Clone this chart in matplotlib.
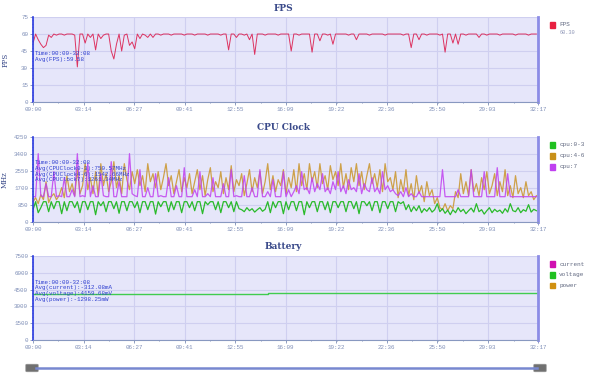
#!/usr/bin/env python3
# FPS / CPU clock / battery dashboard, three stacked panels over one session.

import numpy as np
import matplotlib
matplotlib.use("Agg")
import matplotlib.pyplot as plt
from matplotlib.lines import Line2D
from matplotlib.patches import FancyBboxPatch, Rectangle
from matplotlib.ticker import AutoMinorLocator

SAMPLE_STEP = 10  # seconds between samples

tick_seconds = [0, 194, 387, 581, 775, 969, 1162, 1356, 1550, 1743, 1937]
tick_labels = ["00:00", "03:14", "06:27", "09:41", "12:55", "16:09",
               "19:22", "22:36", "25:50", "29:03", "32:17"]

fps = [
    52, 60, 55, 51, 48, 50, 59, 57, 60, 59, 60, 60, 59, 60, 60, 60, 59, 31, 60, 60,
    52, 60, 57, 60, 46, 60, 56, 59, 60, 60, 45, 38, 51, 60, 45, 59, 60, 50, 53, 47,
    60, 56, 60, 59, 57, 60, 57, 60, 60, 59, 60, 60, 60, 59, 60, 60, 60, 60, 59, 60,
    60, 60, 59, 60, 60, 60, 60, 59, 60, 60, 60, 60, 59, 60, 60, 46, 60, 60, 57, 60,
    60, 59, 60, 55, 60, 42, 60, 60, 60, 59, 60, 60, 60, 60, 59, 60, 60, 60, 60, 45,
    60, 60, 59, 60, 60, 60, 60, 44, 60, 60, 54, 60, 60, 59, 60, 51, 60, 60, 60, 60,
    60, 59, 60, 60, 55, 60, 60, 60, 60, 59, 60, 60, 60, 60, 60, 59, 60, 60, 60, 60,
    60, 60, 59, 60, 60, 48, 60, 60, 55, 60, 60, 59, 60, 60, 60, 60, 59, 60, 44, 60,
    60, 52, 60, 51, 60, 60, 59, 60, 60, 60, 60, 57, 60, 60, 59, 60, 60, 60, 60, 59,
    60, 60, 60, 60, 60, 59, 60, 60, 60, 60, 59, 60, 60, 60,
]

cpu_0_3 = [
    600, 1000, 450, 700, 1000, 1000, 500, 1000, 650, 1000, 1000, 400, 1000, 550, 1000, 1000, 700, 1000, 450, 1000,
    1000, 600, 1000, 1000, 350, 1000, 800, 1000, 500, 1000, 1000, 650, 1000, 420, 1000, 1000, 550, 1000, 1000, 700,
    1000, 450, 1000, 1000, 600, 1000, 1000, 380, 1000, 750, 1000, 1000, 500, 1000, 600, 1000, 1000, 450, 1000, 1000,
    700, 1000, 550, 1000, 1000, 400, 1000, 850, 1000, 1000, 600, 1000, 450, 1000, 1000, 700, 1000, 500, 1000, 650,
    600, 500, 700, 550, 650, 480, 600, 700, 520, 620, 1000, 450, 1000, 700, 1000, 1000, 400, 1000, 600, 1000,
    1000, 550, 1000, 1000, 350, 1000, 700, 1000, 1000, 500, 1000, 1000, 600, 1000, 450, 1000, 1000, 700, 1000, 1000,
    500, 1000, 1000, 650, 1000, 400, 1000, 1000, 800, 1000, 550, 1000, 1000, 450, 1000, 1000, 650, 1000, 1000, 500,
    1000, 900, 1000, 600, 850, 500, 750, 550, 800, 450, 650, 520, 700, 480, 600, 900, 500, 650, 420, 580,
    350, 600, 450, 700, 500, 620, 400, 550, 680, 480, 900, 500, 600, 380, 550, 700, 450, 620, 500, 580,
    420, 650, 480, 900, 550, 500, 700, 450, 600, 520, 850, 480, 620, 550,
]

cpu_4_6 = [
    1000, 1200, 900, 1350, 1100, 2000, 950, 1250, 1400, 1100, 1300, 1700, 1200, 2300, 1500, 1900, 1300, 2600, 1400, 1800,
    2900, 1600, 2200, 1400, 2500, 1300, 2900, 1800, 2400, 1500, 2000, 3000, 1700, 2300, 1400, 2900, 2100, 1600, 2500, 1900,
    2600, 1800, 2300, 1500, 2900, 2000, 2400, 1700, 2500, 1600, 2200, 2900, 1800, 2300, 1400, 2000, 2600, 1500, 2200, 1700,
    2400, 1400, 2000, 2600, 1600, 2300, 1300, 2100, 2700, 1500, 2000, 1700, 2500, 1400, 2200, 1600, 2800, 1500, 2100, 1800,
    2400, 1300, 1900, 2600, 1500, 2200, 1700, 2500, 1400, 2000, 2900, 1600, 2300, 1500, 2100, 1800, 2600, 1400, 2200, 1700,
    2600, 1500, 2900, 1800, 2400, 1600, 2900, 2000, 2500, 1700, 2900, 1900, 2300, 1600, 2800, 2100, 2500, 1800, 2900, 1700,
    2400, 1600, 2700, 2000, 2900, 1800, 2500, 1600, 2300, 2900, 1900, 2400, 1700, 2600, 1500, 2900, 2000, 2200, 1600, 2500,
    1200, 2100, 1500, 2600, 1300, 1900, 1100, 2300, 1400, 1800, 1000, 2000, 1300, 1600, 900, 1200, 700, 600, 900, 550,
    800, 650, 1500, 1200, 2400, 1400, 2000, 1300, 2600, 1500, 1900, 1300, 2200, 1600, 2500, 1400, 1800, 2400, 1300, 2000,
    1500, 2600, 1300, 1800, 1200, 2300, 1400, 1700, 1200, 2000, 1300, 1500, 1100, 1300,
]

cpu_7 = [
    1250, 1250, 3400, 1300, 1250, 1900, 1250, 1250, 2500, 1250, 1300, 1250, 2200, 1250, 1250, 1600, 1250, 3400, 1250, 1300,
    1250, 2900, 1250, 1800, 1250, 1250, 2400, 1300, 1250, 1250, 3000, 1250, 1250, 2000, 1250, 1250, 1250, 3400, 1400, 1300,
    1250, 2600, 1250, 1250, 1700, 1250, 1250, 2400, 1250, 1300, 1250, 1250, 2200, 1250, 1250, 1800, 1250, 1250, 2700, 1250,
    1250, 1250, 1600, 1250, 2500, 1250, 1250, 1400, 1250, 2200, 1250, 1250, 1250, 1900, 1250, 1250, 2600, 1250, 1300, 1250,
    1250, 2300, 1250, 1250, 1700, 1250, 1250, 2600, 1250, 1250, 1500, 1250, 2100, 1250, 1250, 1250, 2500, 1250, 1600, 1250,
    1500, 1800, 1400, 2500, 1600, 1700, 1400, 2200, 1500, 1900, 1600, 2400, 1500, 1700, 1400, 2000, 1600, 2500, 1500, 1800,
    1400, 2100, 1600, 1700, 1500, 2400, 1400, 1900, 1600, 1500, 2200, 1500, 1700, 1400, 2500, 1600, 1800, 1500, 1600, 1400,
    1300, 1500, 1250, 1700, 1250, 1400, 1250, 1250, 1500, 1250, 1250, 1250, 1250, 1250, 1250, 1250, 1250, 2600, 1250, 1250,
    1250, 1250, 1250, 1600, 1250, 1250, 1250, 1250, 2600, 1250, 1250, 1250, 1250, 2500, 1250, 1250, 1250, 1250, 2700, 1250,
    1250, 1250, 2400, 1250, 1250, 1250, 1250, 1250, 1250, 1250, 1250, 1250, 1250, 1250,
]

# battery, sampled every 100 s
BATT_STEP = 100
voltage = [4140, 4140, 4140, 4140, 4140, 4140, 4140, 4140, 4140, 4170,
           4170, 4170, 4170, 4170, 4170, 4170, 4200, 4200, 4200, 4200]
current = [-312] * 20
power = [-1298] * 20

BG = "#E6E6FA"
GRID = "#CFCFF0"
TICK = "#8090B8"
TITLE = "#3A4A8A"
NOTE = "#3040D0"
MONO = "Liberation Mono"


def style_axes(ax, ymax, ystep):
    ax.set_facecolor(BG)
    ax.set_xlim(0, 1937)
    ax.set_ylim(0, ymax)
    ax.set_xticks(tick_seconds)
    ax.set_xticklabels(tick_labels)
    ax.set_yticks(np.arange(0, ymax + 1, ystep))
    ax.xaxis.set_minor_locator(AutoMinorLocator(2))
    ax.yaxis.set_minor_locator(AutoMinorLocator(5))
    ax.grid(True, which="major", color=GRID, lw=0.8)
    ax.set_axisbelow(True)
    ax.tick_params(which="both", colors=TICK, labelsize=4.2, length=2, width=0.6, pad=1.5)
    ax.tick_params(which="minor", length=1)
    for lab in ax.get_xticklabels() + ax.get_yticklabels():
        lab.set_family(MONO)
    ax.spines["top"].set_visible(False)
    ax.spines["left"].set_color("#2A3AE0")
    ax.spines["left"].set_linewidth(1.2)
    ax.spines["right"].set_color("#8C8CE6")
    ax.spines["right"].set_linewidth(2.0)
    ax.spines["bottom"].set_color("#8898C0")
    ax.spines["bottom"].set_linewidth(0.8)


def note(ax, lines, y):
    ax.text(0.003, y, "\n".join(lines), transform=ax.transAxes, va="top", ha="left",
            fontsize=4.2, family=MONO, color=NOTE, linespacing=1.15, zorder=10)


def legend(fig, x, y, items, dy):
    for i, (color, label) in enumerate(items):
        yy = y - i * dy
        fig.patches.append(Rectangle((x - 0.004, yy - 0.008), 0.009, 0.015, color=color,
                                     transform=fig.transFigure, figure=fig))
        fig.text(x + 0.012, yy, label, fontsize=4.3, family=MONO, color="#606880", va="center")


fig = plt.figure(figsize=(6.0, 3.78), dpi=100)
ax1 = fig.add_axes([0.055, 0.730, 0.842, 0.225])
ax2 = fig.add_axes([0.055, 0.4135, 0.842, 0.225])
ax3 = fig.add_axes([0.055, 0.0997, 0.842, 0.224])

# FPS
t_fps = np.arange(len(fps)) * SAMPLE_STEP
ax1.plot(t_fps, fps, color="#DC2050", lw=0.7, alpha=0.9)
style_axes(ax1, 75, 15)
note(ax1, ["Time:00:00-32:08", "Avg(FPS):59.58"], 0.60)
ax1.set_ylabel("FPS", fontsize=5, family="DejaVu Serif", color=TITLE, labelpad=8)

# CPU clock
ax2.plot(np.arange(len(cpu_4_6)) * SAMPLE_STEP, cpu_4_6, color="#C8901E", lw=0.9, alpha=0.8)
ax2.plot(np.arange(len(cpu_7)) * SAMPLE_STEP, cpu_7, color="#C040F0", lw=0.9, alpha=0.85)
ax2.plot(np.arange(len(cpu_0_3)) * SAMPLE_STEP, cpu_0_3, color="#20B820", lw=0.9, alpha=0.95)
style_axes(ax2, 4250, 850)
note(ax2, ["Time:00:00-32:08", "Avg(CPUClock0-3):750.57MHz",
           "Avg(CPUClock4-6):1542.66MHz", "Avg(CPUClock7):1261.34MHz"], 0.72)
ax2.set_ylabel("MHz", fontsize=5, family="DejaVu Serif", color=TITLE, labelpad=4)

# Battery (current and power are negative, so they sit below the visible range)
t_batt = np.arange(len(voltage)) * BATT_STEP
ax3.plot(t_batt, current, color="#D010B0", lw=1.0)
ax3.plot(t_batt, power, color="#D09010", lw=1.0)
ax3.plot(np.append(t_batt, 1937), voltage + voltage[-1:], color="#40CC50", lw=1.0,
         drawstyle="steps-post")
style_axes(ax3, 7500, 1500)
note(ax3, ["Time:00:00-32:08", "Avg(current):-312.08mA",
           "Avg(voltage):4159.68mV", "Avg(power):-1298.25mW"], 0.715)

for ax, title in [(ax1, "FPS"), (ax2, "CPU Clock"), (ax3, "Battery")]:
    ax.set_title(title, fontsize=6.5, family="DejaVu Serif", weight="bold",
                 color=TITLE, pad=4.5, x=0.5 - 0.005)

legend(fig, 0.920, 1 - 24.5 / 378, [("#E82040", "FPS")], 0.03)
fig.text(0.932, 1 - 32 / 378, "60.30", fontsize=3.8, family=MONO, color="#9098B8", va="center")
legend(fig, 0.920, 1 - 144.5 / 378,
       [("#20C020", "cpu:0-3"), ("#C89018", "cpu:4-6"), ("#C040F0", "cpu:7")], 11 / 378)
legend(fig, 0.920, 1 - 264 / 378,
       [("#D010B0", "current"), ("#20C020", "voltage"), ("#D09010", "power")], 10.7 / 378)

# range slider under the panels
fig.lines.append(Line2D([36 / 600, 537 / 600], [1 - 368 / 378] * 2, color="#7888D0", lw=1.8,
                        transform=fig.transFigure, figure=fig))
for x0 in (27, 535):
    fig.patches.append(FancyBboxPatch((x0 / 600, 1 - 371 / 378), 10 / 600, 6 / 378,
                                      boxstyle="round,pad=0.002", fc="#707070", ec="#909090",
                                      lw=0.5, transform=fig.transFigure, figure=fig))

fig.savefig("out.png", dpi=100)
